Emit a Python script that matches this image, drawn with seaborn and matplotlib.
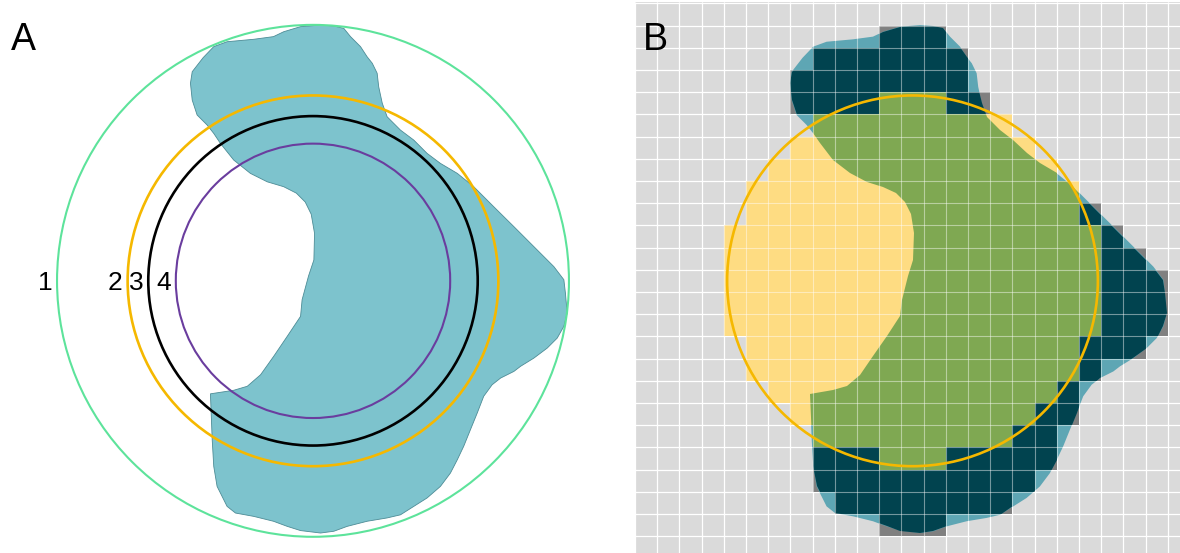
import numpy as np
import seaborn as sns
import matplotlib
matplotlib.use("Agg")
import matplotlib.pyplot as plt
from matplotlib.colors import ListedColormap
from matplotlib.patches import Polygon, Circle

sns.set_theme(style="white")
plt.rcParams["font.family"] = ["Liberation Sans", "DejaVu Sans"]

# blob outline in grid-cell units (x to the right, y downwards)
blob_x = [7.55, 8.03, 8.63, 9.83, 10.72, 11.18, 11.94, 12.84, 13.44, 13.89, 14.19, 14.64,
          14.94, 15.17, 15.39, 15.46, 15.62, 15.84, 16.44, 17.04, 17.64, 18.24, 19.00, 19.74,
          20.64, 21.55, 22.45, 23.35, 23.80, 23.87, 23.95, 23.80, 23.50, 23.05, 22.45, 21.85,
          21.55, 20.95, 20.57, 20.19, 19.90, 19.59, 19.29, 19.00, 18.69, 18.24, 17.64, 17.04,
          16.44, 15.84, 14.94, 14.04, 13.44, 12.84, 11.94, 11.34, 10.72, 9.83, 9.01, 8.63,
          8.18, 8.03, 7.96, 7.88, 8.93, 9.54, 10.14, 10.73, 11.34, 11.94, 12.01, 12.30,
          12.54, 12.57, 12.42, 12.15, 11.75, 11.18, 10.44, 9.68, 8.93, 8.33, 8.03, 7.73,
          7.28, 7.06, 6.98, 7.06]
blob_y = [2.45, 1.95, 1.73, 1.62, 1.50, 1.28, 1.05, 0.98, 1.02, 1.13, 1.50, 1.95,
          2.41, 2.70, 3.15, 3.76, 4.50, 5.11, 5.71, 6.16, 6.76, 7.21, 7.66, 8.26,
          9.16, 10.06, 10.96, 11.86, 12.45, 13.05, 13.95, 14.55, 15.08, 15.53, 15.98, 16.35,
          16.58, 16.88, 17.18, 17.70, 18.45, 19.21, 19.95, 20.56, 21.16, 21.76, 22.28, 22.66,
          23.04, 23.18, 23.33, 23.56, 23.78, 23.86, 23.75, 23.56, 23.33, 23.11, 22.96, 22.66,
          21.76, 20.86, 19.66, 17.59, 17.43, 17.25, 16.73, 15.90, 15.00, 14.10, 13.35, 12.28,
          11.56, 10.36, 9.50, 8.95, 8.55, 8.26, 8.04, 7.66, 7.06, 6.31, 5.86, 5.48,
          5.03, 4.36, 3.60, 3.08]

# concentric rings of panel A (ring 2 is the one used in panel B)
centre = (12.5, 12.5)
ring_names = ["1", "2", "3", "4"]
ring_radius = [11.53, 8.35, 7.42, 6.18]
ring_colors = ["#5de39b", "#f5b800", "#000000", "#6a3d9e"]
ring_widths = [1.5, 1.9, 1.9, 1.5]

# rasterised cells: first / last column covered in each row
circle_rows = list(range(4, 21))
circle_first = [11, 8, 7, 6, 5, 5, 4, 4, 4, 4, 4, 5, 5, 6, 7, 8, 11]
circle_last = [13, 16, 17, 18, 19, 19, 20, 20, 20, 20, 20, 19, 19, 18, 17, 16, 13]
blob_rows = list(range(1, 24))
blob_first = [11, 8, 7, 7, 8, 8, 9, 10, 11, 12, 12, 12, 12, 11, 11, 10, 9, 8, 8, 8, 8, 9, 11]
blob_last = [13, 14, 14, 15, 15, 16, 18, 19, 20, 21, 22, 23, 23, 23, 22, 20, 19, 19, 18, 18, 17, 16, 13]

N = 25
XLIM = (0, 24.55)
YLIM = (24.76, -0.06)
outline = np.column_stack([blob_x, blob_y])


def span_mask(rows, first, last):
    m = np.zeros((N, N), dtype=bool)
    for r, a, b in zip(rows, first, last):
        m[r, a:b + 1] = True
    return m


def cells(ax, mask, color, z, clip=False):
    sns.heatmap(np.ones((N, N)), mask=~mask, cmap=ListedColormap([color]), vmin=0, vmax=1,
                cbar=False, xticklabels=False, yticklabels=False, linewidths=0, ax=ax)
    mesh = ax.collections[-1]
    mesh.set_zorder(z)
    if clip:
        mesh.set_clip_path(Polygon(outline, closed=True, transform=ax.transData))


def tidy(ax):
    ax.set_xlim(*XLIM)
    ax.set_ylim(*YLIM)
    ax.set_xticks([])
    ax.set_yticks([])
    ax.set_xlabel("")
    ax.set_ylabel("")
    for s in ax.spines.values():
        s.set_visible(False)


blob_cells = span_mask(blob_rows, blob_first, blob_last)
circle_cells = span_mask(circle_rows, circle_first, circle_last)

fig = plt.figure(figsize=(11.8, 5.53), dpi=100)

# ---- panel A
ax_a = fig.add_axes([35.5 / 1180, 0, 545 / 1180, 551 / 553])
ax_a.add_patch(Polygon(outline, closed=True, facecolor="#7dc3cd", edgecolor="#4d8c96",
                       linewidth=0.6, zorder=1))
for name, r, col, lw in zip(ring_names, ring_radius, ring_colors, ring_widths):
    ax_a.add_patch(Circle(centre, r, fill=False, edgecolor=col, linewidth=lw, zorder=3))
    ax_a.text(centre[0] - r - 0.55, centre[1] + 0.42, name, fontsize=19,
              ha="center", va="baseline", color="black")
tidy(ax_a)

# ---- panel B
ax_b = fig.add_axes([635 / 1180, 0, 545 / 1180, 551 / 553])
ax_b.set_facecolor("#dadada")
cells(ax_b, blob_cells, "#808080", 1)
ax_b.add_patch(Polygon(outline, closed=True, facecolor="#5ea6b4", edgecolor="none", zorder=2))
cells(ax_b, circle_cells, "#fedc82", 3)
cells(ax_b, blob_cells & ~circle_cells, "#01434f", 4, clip=True)
cells(ax_b, circle_cells, "#7fa852", 5, clip=True)

ticks = np.arange(0, N + 1)
ax_b.vlines(ticks, YLIM[1], YLIM[0], color="white", linewidth=0.9, zorder=0.5)
ax_b.hlines(ticks, XLIM[0], XLIM[1], color="white", linewidth=0.9, zorder=0.5)
ax_b.vlines(ticks, YLIM[1], YLIM[0], color="white", linewidth=0.8, alpha=0.45, zorder=6)
ax_b.hlines(ticks, XLIM[0], XLIM[1], color="white", linewidth=0.8, alpha=0.45, zorder=6)
ax_b.add_patch(Circle(centre, ring_radius[1], fill=False, edgecolor=ring_colors[1],
                      linewidth=1.9, zorder=7))
tidy(ax_b)

fig.text(11 / 1180, 1 - 50 / 553, "A", fontsize=27, ha="left", va="baseline", color="black")
fig.text(643 / 1180, 1 - 50 / 553, "B", fontsize=27, ha="left", va="baseline", color="black")

fig.savefig("out.png", dpi=100)
